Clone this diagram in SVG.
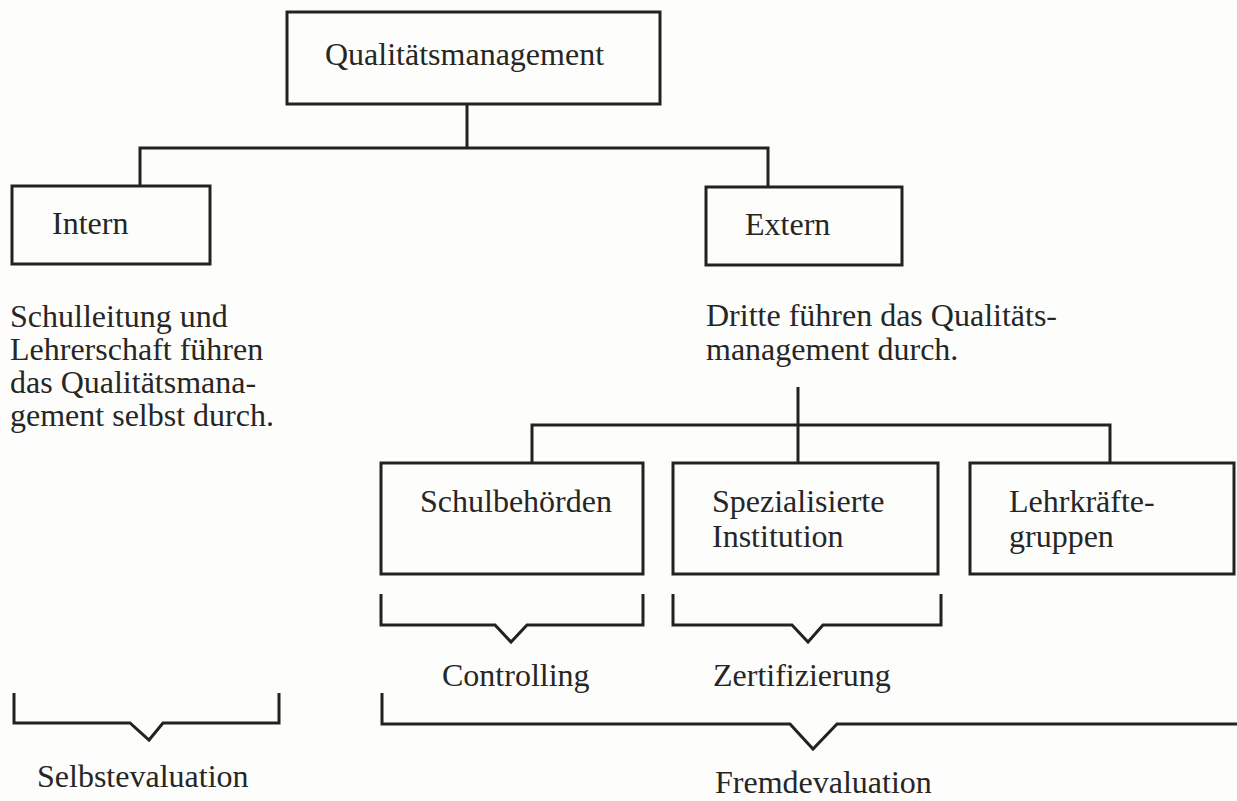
<svg xmlns="http://www.w3.org/2000/svg" width="1237" height="801" viewBox="0 0 1237 801">
<style>
.bg{fill:#fdfdfb}
.box{fill:none;stroke:#222;stroke-width:3}
.ln{fill:none;stroke:#222;stroke-width:3;stroke-linejoin:miter}
text{font-family:"Liberation Serif","Times New Roman",serif;font-size:32px;fill:#262626}
</style>
<rect class="bg" x="0" y="0" width="1237" height="801"/>
<g id="connectors">
<path class="ln" d="M467,104 V148"/>
<path class="ln" d="M140,185 V148 H768 V187"/>
<path class="ln" d="M798,387 V425"/>
<path class="ln" d="M532,463 V425 H1110 V463"/>
<path class="ln" d="M798,425 V463"/>
</g>
<g id="qm">
<rect class="box" x="287" y="12" width="373" height="92"/>
<text x="325" y="65">Qualitätsmanagement</text>
</g>
<g id="intern">
<rect class="box" x="12" y="186" width="198" height="78"/>
<text x="52" y="234">Intern</text>
</g>
<g id="intern-desc">
<text x="10" y="327">Schulleitung und</text>
<text x="10" y="360">Lehrerschaft führen</text>
<text x="10" y="393">das Qualitätsmana-</text>
<text x="10" y="426">gement selbst durch.</text>
</g>
<g id="extern">
<rect class="box" x="706" y="187" width="196" height="78"/>
<text x="745" y="235">Extern</text>
</g>
<g id="extern-desc">
<text x="706" y="326">Dritte führen das Qualitäts-</text>
<text x="706" y="360">management durch.</text>
</g>
<g id="schulbehoerden">
<rect class="box" x="381" y="463" width="262" height="111"/>
<text x="420" y="512">Schulbehörden</text>
</g>
<g id="spezialisierte">
<rect class="box" x="673" y="463" width="265" height="111"/>
<text x="712" y="512">Spezialisierte</text>
<text x="712" y="547">Institution</text>
</g>
<g id="lehrkraefte">
<rect class="box" x="970" y="463" width="264" height="111"/>
<text x="1009" y="512">Lehrkräfte-</text>
<text x="1009" y="547">gruppen</text>
</g>
<g id="controlling">
<path class="ln" d="M381,594 V625 H495 L511,642 L527,625 H643 V594"/>
<text x="442" y="686">Controlling</text>
</g>
<g id="zertifizierung">
<path class="ln" d="M673,594 V625 H792 L808,642 L823,625 H941 V594"/>
<text x="713" y="686">Zertifizierung</text>
</g>
<g id="selbstevaluation">
<path class="ln" d="M14,693 V723 H130 L149,740 L163,723 H279 V693"/>
<text x="37" y="787">Selbstevaluation</text>
</g>
<g id="fremdevaluation">
<path class="ln" d="M382,693 V724 H790 L813,749 L837,724 H1237"/>
<text x="715" y="793">Fremdevaluation</text>
</g>
</svg>
